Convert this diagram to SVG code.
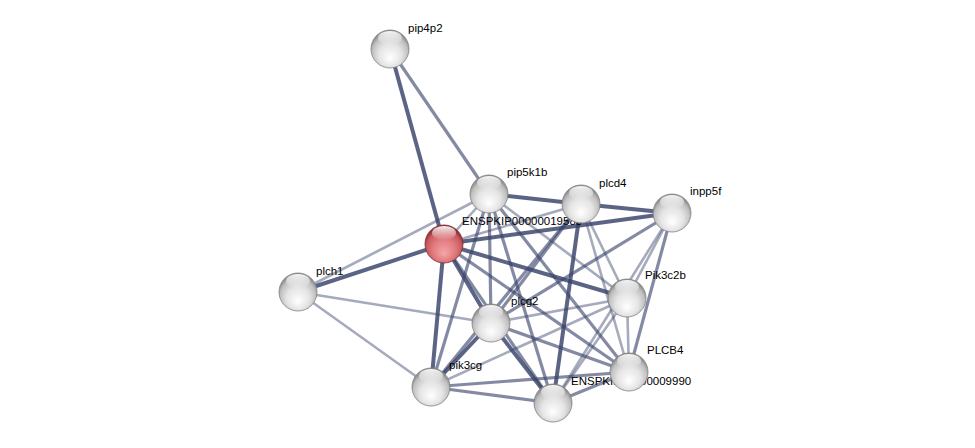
<svg xmlns="http://www.w3.org/2000/svg" width="975" height="448" viewBox="0 0 975 448">
<defs>
<radialGradient id="gGray" cx="50%" cy="60%" r="55%" fx="50%" fy="75%">
<stop offset="0" stop-color="#ffffff"/>
<stop offset="0.55" stop-color="#e4e4e4"/>
<stop offset="0.85" stop-color="#c0c0c0"/>
<stop offset="1" stop-color="#8e8e8e"/>
</radialGradient>
<radialGradient id="gRed" cx="50%" cy="60%" r="55%" fx="50%" fy="75%">
<stop offset="0" stop-color="#f4a6a8"/>
<stop offset="0.55" stop-color="#e07a7e"/>
<stop offset="0.85" stop-color="#c9585d"/>
<stop offset="1" stop-color="#8e2f33"/>
</radialGradient>
<linearGradient id="gHi" x1="0" y1="0" x2="0" y2="1">
<stop offset="0" stop-color="#ffffff" stop-opacity="0.95"/>
<stop offset="1" stop-color="#ffffff" stop-opacity="0"/>
</linearGradient>
</defs>
<style>
.e{stroke:#38426a;fill:none;stroke-linecap:butt}
.s{stroke-width:4;stroke-opacity:0.82}
.m{stroke-width:3.2;stroke-opacity:0.62}
.w{stroke-width:2.6;stroke-opacity:0.45}
.n{fill:url(#gGray);stroke:#808080;stroke-width:0.8}
.r{fill:url(#gRed);stroke:#7a2a2e;stroke-width:0.8}
.h{fill:url(#gHi)}
.t{font-family:"Liberation Sans",Arial,sans-serif;font-size:11.5px;fill:#000}
</style>
<rect width="975" height="448" fill="#ffffff"/>
<g id="edges">
<line class="e s" x1="390" y1="49" x2="444" y2="244"/>
<line class="e m" x1="390" y1="49" x2="489" y2="194"/>
<line class="e s" x1="298" y1="292" x2="444" y2="244"/>
<line class="e w" x1="298" y1="292" x2="489" y2="194"/>
<line class="e w" x1="298" y1="292" x2="491" y2="323"/>
<line class="e w" x1="298" y1="292" x2="431" y2="387"/>
<line class="e w" x1="444" y1="244" x2="489" y2="194"/>
<line class="e w" x1="444" y1="244" x2="581" y2="204"/>
<line class="e s" x1="444" y1="244" x2="672" y2="213"/>
<line class="e s" x1="444" y1="244" x2="627" y2="298"/>
<line class="e s" x1="444" y1="244" x2="491" y2="323"/>
<line class="e m" x1="444" y1="244" x2="629" y2="372"/>
<line class="e s" x1="444" y1="244" x2="431" y2="387"/>
<line class="e m" x1="444" y1="244" x2="553" y2="403"/>
<line class="e s" x1="489" y1="194" x2="581" y2="204"/>
<line class="e m" x1="489" y1="194" x2="491" y2="323"/>
<line class="e m" x1="489" y1="194" x2="431" y2="387"/>
<line class="e m" x1="489" y1="194" x2="553" y2="403"/>
<line class="e m" x1="489" y1="194" x2="629" y2="372"/>
<line class="e w" x1="489" y1="194" x2="627" y2="298"/>
<line class="e s" x1="581" y1="204" x2="672" y2="213"/>
<line class="e w" x1="581" y1="204" x2="627" y2="298"/>
<line class="e m" x1="581" y1="204" x2="491" y2="323"/>
<line class="e w" x1="581" y1="204" x2="629" y2="372"/>
<line class="e m" x1="581" y1="204" x2="431" y2="387"/>
<line class="e s" x1="581" y1="204" x2="553" y2="403"/>
<line class="e w" x1="672" y1="213" x2="627" y2="298"/>
<line class="e m" x1="672" y1="213" x2="629" y2="372"/>
<line class="e w" x1="672" y1="213" x2="553" y2="403"/>
<line class="e m" x1="672" y1="213" x2="491" y2="323"/>
<line class="e w" x1="627" y1="298" x2="431" y2="387"/>
<line class="e w" x1="627" y1="298" x2="491" y2="323"/>
<line class="e w" x1="627" y1="298" x2="629" y2="372"/>
<line class="e w" x1="627" y1="298" x2="553" y2="403"/>
<line class="e m" x1="491" y1="323" x2="629" y2="372"/>
<line class="e s" x1="491" y1="323" x2="431" y2="387"/>
<line class="e s" x1="491" y1="323" x2="553" y2="403"/>
<line class="e m" x1="629" y1="372" x2="431" y2="387"/>
<line class="e m" x1="629" y1="372" x2="553" y2="403"/>
<line class="e m" x1="431" y1="387" x2="553" y2="403"/>
</g>
<g id="n_pip4p2"><circle class="n" cx="390" cy="49" r="19"/><ellipse class="h" cx="390" cy="38" rx="12" ry="7"/><text class="t" x="408" y="32">pip4p2</text></g>
<g id="n_plch1"><circle class="n" cx="298" cy="292" r="19"/><ellipse class="h" cx="298" cy="281" rx="12" ry="7"/><text class="t" x="316" y="275">plch1</text></g>
<g id="n_pip5k1b"><circle class="n" cx="489" cy="194" r="19"/><ellipse class="h" cx="489" cy="183" rx="12" ry="7"/><text class="t" x="507" y="176">pip5k1b</text></g>
<g id="n_ENSPKIP00000019583"><circle class="r" cx="444" cy="244" r="19"/><ellipse class="h" cx="444" cy="233" rx="12" ry="7"/><text class="t" x="462" y="225">ENSPKIP00000019583</text></g>
<g id="n_plcd4"><circle class="n" cx="581" cy="204" r="19"/><ellipse class="h" cx="581" cy="193" rx="12" ry="7"/><text class="t" x="599" y="187">plcd4</text></g>
<g id="n_inpp5f"><circle class="n" cx="672" cy="213" r="19"/><ellipse class="h" cx="672" cy="202" rx="12" ry="7"/><text class="t" x="690" y="195">inpp5f</text></g>
<g id="n_Pik3c2b"><circle class="n" cx="627" cy="298" r="19"/><ellipse class="h" cx="627" cy="287" rx="12" ry="7"/><text class="t" x="645" y="279">Pik3c2b</text></g>
<g id="n_plcg2"><circle class="n" cx="491" cy="323" r="19"/><ellipse class="h" cx="491" cy="312" rx="12" ry="7"/><text class="t" x="511" y="305">plcg2</text></g>
<g id="n_pik3cg"><circle class="n" cx="431" cy="387" r="19"/><ellipse class="h" cx="431" cy="376" rx="12" ry="7"/><text class="t" x="449" y="369">pik3cg</text></g>
<g id="n_ENSPKIP00000009990"><circle class="n" cx="553" cy="403" r="19"/><ellipse class="h" cx="553" cy="392" rx="12" ry="7"/><text class="t" x="571" y="385">ENSPKIP00000009990</text></g>
<g id="n_PLCB4"><circle class="n" cx="629" cy="372" r="19"/><ellipse class="h" cx="629" cy="361" rx="12" ry="7"/><text class="t" x="647" y="354">PLCB4</text></g>
</svg>
